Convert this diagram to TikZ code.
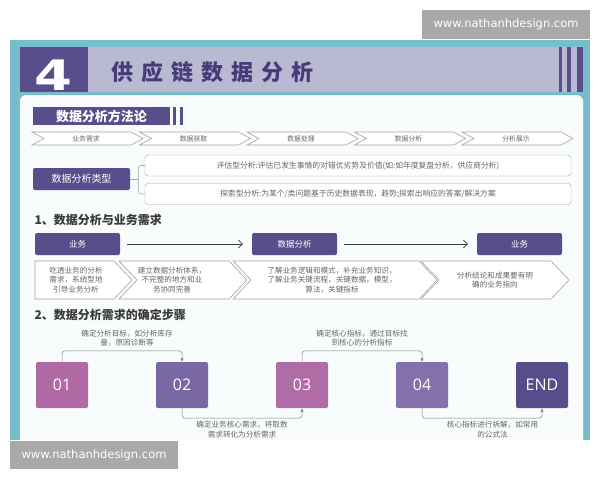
\documentclass[tikz,border=0pt]{standalone}
\usepackage{fontspec}
\setmainfont{Noto Sans CJK SC}
\newfontfamily\wmfont{DejaVu Sans}
\newfontfamily\numfont{Open Sans}
\usepackage{xcolor}
\usetikzlibrary{arrows.meta,calc,positioning}
\definecolor{frame}{HTML}{79BCCB}
\definecolor{lav}{HTML}{B9BAD2}
\definecolor{dpurple}{HTML}{5A4D8C}
\definecolor{tpurple}{HTML}{463A78}
\definecolor{wmgray}{HTML}{A9A9A9}
\definecolor{ln}{HTML}{A4A4A4}
\definecolor{txt}{HTML}{666666}
\definecolor{hd}{HTML}{3A3A3A}
\definecolor{panel}{HTML}{F9FCFD}
\definecolor{sA}{HTML}{B06AA3}
\definecolor{sB}{HTML}{7968A4}
\definecolor{sC}{HTML}{B06CA4}
\definecolor{sD}{HTML}{8470AA}
\definecolor{sE}{HTML}{594C8B}
\tikzset{
    pbox/.style={fill=dpurple,rounded corners=2pt,text=white,inner sep=0pt},
    tbox/.style={draw=ln,fill=white,rounded corners=3pt,inner sep=0pt,minimum width=426pt,minimum height=21pt,font=\fontsize{7.8}{9}\selectfont,text=txt},
    chev/.style={draw=ln,fill=white,line width=0.6pt},
    chevtext/.style={align=center,text=txt,font=\fontsize{7.6}{9.5}\selectfont},
    stepbox/.style={rounded corners=2pt,minimum width=52pt,minimum height=46pt,text=white,font=\numfont\fontsize{16}{16}\selectfont,inner sep=0pt},
    note/.style={align=center,text=txt,font=\fontsize{7.6}{9.5}\selectfont},
    link/.style={draw=gray,line width=0.5pt,rounded corners=3pt,-{Latex[length=3.5pt,width=3.5pt]}},
    flow/.style={draw=hd,line width=0.7pt,shorten <=7pt,shorten >=9pt,-{Straight Barb[length=4pt,width=8pt]}},
    wmark/.style={fill=wmgray,minimum width=168pt,minimum height=29pt,inner sep=0pt,text=white,font=\wmfont\fontsize{11.5}{12}\selectfont},
    sechead/.style={anchor=west,text=hd,font=\bfseries\fontsize{12}{12}\selectfont}
}
\begin{document}
\begin{tikzpicture}[x=1pt,y=-1pt]
    \useasboundingbox[fill=white] (0,0) rectangle (600,480);
    \fill[frame] (10,40) rectangle (590,450);
    \fill[panel,rounded corners=6pt] (20,95) rectangle (583,460);
    \fill[white] (0,440) rectangle (600,480);
    \node[wmark] (wmtop) at (506,24.5) {www.nathanhdesign.com};
    \node[wmark,minimum height=28pt] (wmbot) at (94,455) {www.nathanhdesign.com};
    \fill[lav] (88,47) rectangle (583,92);
    \node[fill=dpurple,minimum width=68pt,minimum height=45pt,inner sep=0pt] (num) at (54,69.5) {};
    \node[text=white,font=\wmfont\bfseries\fontsize{42}{42}\selectfont,xscale=1.3] (numtxt) at (53,75.5) {4};
    \foreach \x/\w in {559/3,567/4,577/6}
    \fill[dpurple] (\x,47) rectangle ++(\w,45);
    \foreach \c [count=\i from 0] in {供,应,链,数,据,分,析}
    \node[text=tpurple,font=\bfseries\fontsize{22}{22}\selectfont] (title\i) at ({122+30*\i},72) {\c};
    \node[pbox,rounded corners=0pt,minimum width=137pt,minimum height=18pt,font=\bfseries\fontsize{13}{13}\selectfont] (mhead) at (101.5,116) {数据分析方法论};
    \fill[dpurple] (173,107) rectangle (175.5,125);
    \fill[dpurple] (180,107) rectangle (183,125);
    \foreach \t [count=\i from 0] in {业务需求,数据获取,数据处理,数据分析,分析展示} {
    \draw[chev] ({32+107.5*\i},132) -- ++(99,0) -- ++(12,6.5) -- ++(-12,6.5) -- ++(-99,0) -- ++(12,-6.5) -- cycle;
    \node[text=txt,font=\fontsize{6.8}{7}\selectfont] (step\i) at ({86+107.5*\i},138.5) {\t};
    }
    \node[pbox,minimum width=97pt,minimum height=22pt,font=\fontsize{10}{10}\selectfont] (types) at (81.5,179) {数据分析类型};
    \node[tbox] (ta) at (358,165.5) {评估型分析:评估已发生事情的对错优劣势及价值(如:如年度复盘分析，供应商分析)};
    \node[tbox] (tb) at (358,194) {探索型分析:为某个/类问题基于历史数据表现，趋势;探索出响应的答案/解决方案};
    \coordinate (fork) at ($(types.east)+(8,0)$);
    \draw[ln,line width=0.6pt] (types.east) -- (fork);
    \draw[ln,line width=0.6pt,rounded corners=3pt] (ta.west) -| (fork) |- (tb.west);
    \node[sechead] (sec1) at (31,219.5) {1、数据分析与业务需求};
    \node[pbox,minimum width=85pt,minimum height=22pt,font=\fontsize{8.5}{9}\selectfont] (biz1) at (77.5,244) {业务};
    \node[pbox,minimum width=85pt,minimum height=22pt,font=\fontsize{8.5}{9}\selectfont] (ana) at (294.5,244) {数据分析};
    \node[pbox,minimum width=85pt,minimum height=22pt,font=\fontsize{8.5}{9}\selectfont] (biz2) at (519.5,244) {业务};
    \draw[flow] (biz1) -- (ana);
    \draw[flow] (ana) -- (biz2);
    \foreach \a/\b/\n in {35/114/0,119/229/18,233/419/18,421/551/18}
    \draw[chev] (\a,261) -- (\b,261) -- ({\b+18},280) -- (\b,299) -- (\a,299) -- ({\a+\n},280) -- cycle;
    \node[chevtext] (n1) at (76,280) {吃透业务的分析\\需求，系统型地\\引导业务分析};
    \node[chevtext] (n2) at (172,280) {建立数据分析体系，\\不完整的地方和业\\务协同完善};
    \node[chevtext] (n3) at (332,280) {了解业务逻辑和模式，补充业务知识，\\了解业务关键流程，关键数据，模型，\\算法，关键指标};
    \node[chevtext] (n4) at (495,280) {分析结论和成果要有明\\确的业务指向};
    \node[sechead] (sec2) at (31,315) {2、数据分析需求的确定步骤};
    \foreach \n/\t/\x/\c in {s1/01/62/sA,s2/02/182/sB,s3/03/302/sC,s4/04/422/sD,s5/END/542/sE}
    \node[stepbox,fill=\c] (\n) at (\x,385) {\t};
    \draw[link] (s1.north) -- ++(0,-11) -| (s2.north);
    \draw[link] (s2.south) -- ++(0,10) -| (s3.south);
    \draw[link] (s3.north) -- ++(0,-11) -| (s4.north);
    \draw[link] (s4.south) -- ++(0,10) -| (s5.south);
    \node[note] (l1) at (127,338) {确定分析目标，如分析库存\\量，原因诊断等};
    \node[note] (l2) at (242,429.5) {确定业务核心需求，将取数\\需求转化为分析需求};
    \node[note] (l3) at (362,338) {确定核心指标，通过目标找\\到核心的分析指标};
    \node[note] (l4) at (492.5,429.5) {核心指标进行拆解，如常用\\的公式法};
\end{tikzpicture}
\end{document}
